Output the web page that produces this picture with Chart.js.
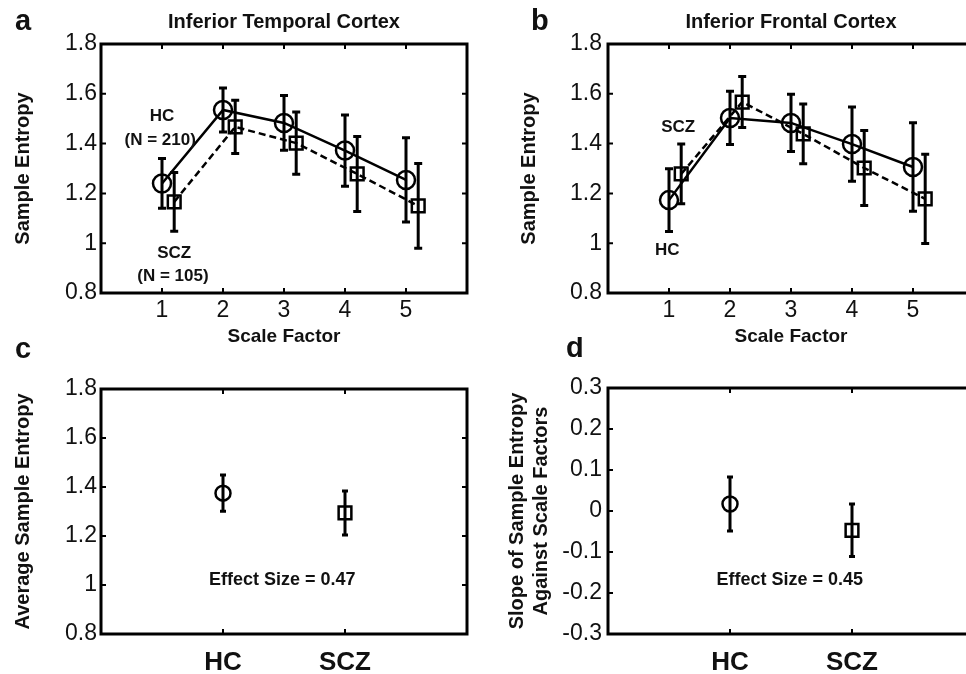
<!DOCTYPE html>
<html>
<head>
<meta charset="utf-8">
<script src="https://cdn.jsdelivr.net/npm/chart.js@4.4.1/dist/chart.umd.min.js"></script>
<style>
html, body { margin: 0; padding: 0; background: #fff; overflow: hidden; }
#wrap { position: relative; width: 966px; height: 674px; overflow: hidden; background: #fff; }
canvas { position: absolute; display: block; }
</style>
</head>
<body>
<div id="wrap">
  <canvas id="pa" width="483" height="360" style="left:0px;top:0px;width:483px;height:360px"></canvas>
  <canvas id="pb" width="510" height="360" style="left:483px;top:0px;width:510px;height:360px"></canvas>
  <canvas id="pc" width="483" height="337" style="left:0px;top:337px;width:483px;height:337px"></canvas>
  <canvas id="pd" width="510" height="337" style="left:483px;top:337px;width:510px;height:337px"></canvas>
</div>
<script>
// ---------------- data ----------------
const scaleFactors = [1, 2, 3, 4, 5];
const itcHC     = [1.240, 1.535, 1.483, 1.372, 1.254];
const itcHCErr  = [0.100, 0.088, 0.110, 0.143, 0.169];
const itcSCZ    = [1.166, 1.467, 1.402, 1.278, 1.150];
const itcSCZErr = [0.118, 0.107, 0.125, 0.151, 0.170];
const ifcHC     = [1.173, 1.503, 1.483, 1.398, 1.306];
const ifcHCErr  = [0.126, 0.107, 0.115, 0.149, 0.178];
const ifcSCZ    = [1.278, 1.567, 1.439, 1.302, 1.178];
const ifcSCZErr = [0.120, 0.102, 0.120, 0.151, 0.179];
const groups = ['HC', 'SCZ'];
const avgEntropy      = [1.375, 1.294];
const avgEntropyErr   = [0.074, 0.090];
const slopeEntropy    = [0.017, -0.047];
const slopeEntropyErr = [0.066, 0.064];
const entropyTicks = [0.8, 1, 1.2, 1.4, 1.6, 1.8];
const slopeTicks = [-0.3, -0.2, -0.1, 0, 0.1, 0.2, 0.3];
const groupPos = [2, 4];
const DODGE = 0.2;

// ---------------- style ----------------
const FONT = "'Liberation Sans', Arial, Helvetica, sans-serif";
Chart.defaults.font.family = FONT;
Chart.defaults.color = '#111';

function decoPlugin(cfg) {
  return {
    id: 'deco',
    afterDatasetsDraw(chart) {
      const ctx = chart.ctx, xs = chart.scales.x, ys = chart.scales.y, a = chart.chartArea;
      ctx.save();
      // error bars
      ctx.strokeStyle = '#000';
      ctx.lineWidth = 3;
      ctx.setLineDash([]);
      chart.data.datasets.forEach(ds => {
        ds.data.forEach((p, i) => {
          const e = ds.errors[i];
          const px = xs.getPixelForValue(p.x);
          const y1 = ys.getPixelForValue(p.y + e), y0 = ys.getPixelForValue(p.y - e);
          ctx.beginPath();
          ctx.moveTo(px, y1); ctx.lineTo(px, y0);
          ctx.moveTo(px - cfg.cap, y1); ctx.lineTo(px + cfg.cap, y1);
          ctx.moveTo(px - cfg.cap, y0); ctx.lineTo(px + cfg.cap, y0);
          ctx.stroke();
        });
      });
      // frame
      ctx.lineWidth = 3;
      ctx.strokeRect(a.left, a.top, a.right - a.left, a.bottom - a.top);
      // inward ticks
      ctx.lineWidth = 2;
      const tl = 5;
      ctx.beginPath();
      xs.ticks.forEach(t => {
        const px = xs.getPixelForValue(t.value);
        ctx.moveTo(px, a.bottom); ctx.lineTo(px, a.bottom - tl);
        ctx.moveTo(px, a.top); ctx.lineTo(px, a.top + tl);
      });
      ys.ticks.forEach(t => {
        const py = ys.getPixelForValue(t.value);
        ctx.moveTo(a.left, py); ctx.lineTo(a.left + tl, py);
        ctx.moveTo(a.right, py); ctx.lineTo(a.right - tl, py);
      });
      ctx.stroke();
      // annotations (data coordinates)
      ctx.fillStyle = '#111';
      ctx.textAlign = 'center';
      ctx.textBaseline = 'middle';
      cfg.notes.forEach(n => {
        ctx.font = 'bold ' + n.size + 'px ' + FONT;
        ctx.fillText(n.text, xs.getPixelForValue(n.x), ys.getPixelForValue(n.y));
      });
      // panel letter
      ctx.font = 'bold 29px ' + FONT;
      ctx.textAlign = 'left';
      ctx.textBaseline = 'alphabetic';
      ctx.fillText(cfg.letter, cfg.lx, cfg.ly);
      ctx.restore();
    }
  };
}

function yScale(ticksArr, min, max, geo, titleText) {
  return {
    type: 'linear', min: min, max: max,
    afterBuildTicks: s => { s.ticks = ticksArr.map(v => ({ value: v })); },
    afterFit: s => { s.width = geo.yw; },
    grid: { display: false, drawTicks: false },
    border: { display: false },
    ticks: { padding: geo.yPad, font: { size: 23 }, color: '#111', callback: v => String(v) },
    title: { display: true, text: titleText, color: '#111',
             font: { size: 20, weight: 'bold', lineHeight: 1.2 },
             padding: { top: geo.yTitlePad, bottom: 0 } }
  };
}

function baseOptions(geo) {
  return {
    responsive: false,
    animation: false,
    events: [],
    layout: { padding: { left: 0, right: geo.padR, top: geo.padT, bottom: 0 } },
    plugins: { legend: { display: false }, tooltip: { enabled: false } }
  };
}

function lineChart(id, titleText, hc, hcErr, scz, sczErr, geo, notes, letter) {
  const opts = baseOptions(geo);
  opts.plugins.title = { display: true, text: titleText, fullSize: false, color: '#111',
    font: { size: 20, weight: 'bold', lineHeight: 1.2 }, padding: { top: 10, bottom: 10 } };
  opts.scales = {
    x: {
      type: 'linear', min: 0, max: 6,
      afterBuildTicks: s => { s.ticks = scaleFactors.map(v => ({ value: v })); },
      afterFit: s => { s.height = geo.xh; },
      grid: { display: false, drawTicks: false },
      border: { display: false },
      ticks: { padding: 4, font: { size: 23 }, color: '#111', maxRotation: 0, autoSkip: false,
               callback: v => String(v) },
      title: { display: true, text: 'Scale Factor', color: '#111',
               font: { size: 19, weight: 'bold', lineHeight: 1.2 }, padding: { top: 0, bottom: 12 } }
    },
    y: yScale(entropyTicks, 0.8, 1.8, geo, 'Sample Entropy')
  };
  new Chart(document.getElementById(id), {
    type: 'scatter',
    data: {
      datasets: [
        { label: 'HC', data: scaleFactors.map((f, i) => ({ x: f, y: hc[i] })), errors: hcErr,
          showLine: true, borderColor: '#000', borderWidth: 2.5,
          pointStyle: 'circle', pointRadius: 9, pointBorderWidth: 2.5,
          pointBorderColor: '#000', pointBackgroundColor: 'rgba(0,0,0,0)' },
        { label: 'SCZ', data: scaleFactors.map((f, i) => ({ x: f + DODGE, y: scz[i] })), errors: sczErr,
          showLine: true, borderColor: '#000', borderWidth: 2.5, borderDash: [7, 4],
          pointStyle: 'rect', pointRadius: 9, pointBorderWidth: 2.5,
          pointBorderColor: '#000', pointBackgroundColor: 'rgba(0,0,0,0)' }
      ]
    },
    options: opts,
    plugins: [decoPlugin({ cap: 4, notes: notes, letter: letter.t, lx: letter.x, ly: letter.y })]
  });
}

function groupChart(id, vals, errs, ticksArr, min, max, geo, titleText, notes, letter) {
  const opts = baseOptions(geo);
  opts.scales = {
    x: {
      type: 'linear', min: 0, max: 6,
      afterBuildTicks: s => { s.ticks = groupPos.map(v => ({ value: v })); },
      afterFit: s => { s.height = geo.xh; },
      grid: { display: false, drawTicks: false },
      border: { display: false },
      ticks: { padding: 13, font: { size: 26, weight: 'bold' }, color: '#111', maxRotation: 0, autoSkip: false,
               callback: v => groups[groupPos.indexOf(v)] }
    },
    y: yScale(ticksArr, min, max, geo, titleText)
  };
  new Chart(document.getElementById(id), {
    type: 'scatter',
    data: {
      datasets: [
        { label: groups[0], data: [{ x: groupPos[0], y: vals[0] }], errors: [errs[0]],
          pointStyle: 'circle', pointRadius: 7.5, pointBorderWidth: 2.5,
          pointBorderColor: '#000', pointBackgroundColor: 'rgba(0,0,0,0)' },
        { label: groups[1], data: [{ x: groupPos[1], y: vals[1] }], errors: [errs[1]],
          pointStyle: 'rect', pointRadius: 9, pointBorderWidth: 2.5,
          pointBorderColor: '#000', pointBackgroundColor: 'rgba(0,0,0,0)' }
      ]
    },
    options: opts,
    plugins: [decoPlugin({ cap: 3, notes: notes, letter: letter.t, lx: letter.x, ly: letter.y })]
  });
}

// panel a
lineChart('pa', 'Inferior Temporal Cortex', itcHC, itcHCErr, itcSCZ, itcSCZErr,
  { yw: 101, padR: 16, padT: 0, xh: 67, yPad: 4, yTitlePad: 11 },
  [ { text: 'HC', x: 1.0, y: 1.51, size: 17 },
    { text: '(N = 210)', x: 0.97, y: 1.414, size: 17 },
    { text: 'SCZ', x: 1.2, y: 0.961, size: 17 },
    { text: '(N = 105)', x: 1.18, y: 0.868, size: 17 } ],
  { t: 'a', x: 15, y: 30 });

// panel b
lineChart('pb', 'Inferior Frontal Cortex', ifcHC, ifcHCErr, ifcSCZ, ifcSCZErr,
  { yw: 125, padR: 19, padT: 0, xh: 67, yPad: 6, yTitlePad: 34 },
  [ { text: 'SCZ', x: 1.15, y: 1.467, size: 17 },
    { text: 'HC', x: 0.97, y: 0.973, size: 17 } ],
  { t: 'b', x: 48, y: 30 });

// panel c
groupChart('pc', avgEntropy, avgEntropyErr, entropyTicks, 0.8, 1.8,
  { yw: 101, padR: 16, padT: 52, xh: 40, yPad: 4, yTitlePad: 11 },
  'Average Sample Entropy',
  [ { text: 'Effect Size = 0.47', x: 2.97, y: 1.02, size: 18 } ],
  { t: 'c', x: 15, y: 21 });

// panel d
groupChart('pd', slopeEntropy, slopeEntropyErr, slopeTicks, -0.3, 0.3,
  { yw: 125, padR: 19, padT: 51, xh: 40, yPad: 6, yTitlePad: 22 },
  ['Slope of Sample Entropy', 'Against Scale Factors'],
  [ { text: 'Effect Size = 0.45', x: 2.98, y: -0.168, size: 18 } ],
  { t: 'd', x: 83, y: 20 });
</script>
</body>
</html>
